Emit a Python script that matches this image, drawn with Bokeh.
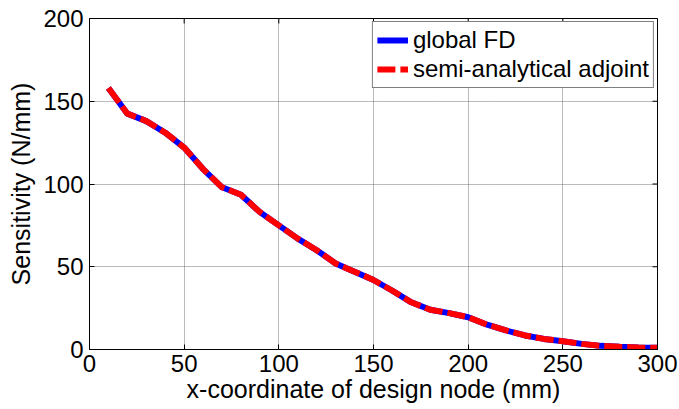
from bokeh.plotting import figure
from bokeh.models import Range1d, Legend, LegendItem, FixedTicker
from bokeh.embed import file_html
from bokeh.resources import INLINE

x_mm = [10, 20, 30, 40, 50, 60, 70, 80, 90, 100, 110, 120, 130, 140, 150,
        160, 170, 180, 190, 200, 210, 220, 230, 240, 250, 260, 270, 280, 290, 300]
fd = [158, 142.5, 138, 131, 122, 109, 98, 93.5, 83, 75, 67, 60, 52, 47, 42,
      35.5, 28.5, 24, 22, 19.5, 15, 11.5, 8.5, 6.4, 5, 3.4, 2.2, 1.6, 1.2, 1.0]
adj = [158, 142.5, 138, 131, 122, 109, 98, 93.5, 83, 75, 67, 60, 52, 47, 42,
       35.5, 28.5, 24, 22, 19.5, 15, 11.5, 8.5, 6.4, 5, 3.4, 2.2, 1.6, 1.2, 1.0]
x_ticks = [0, 50, 100, 150, 200, 250, 300]
y_ticks = [0, 50, 100, 150, 200]
x_lim = (0, 300)
y_lim = (0, 200)

FONT = "Liberation Sans"
FS = "24px"
FS_LABEL = "25px"

p = figure(width=679, height=409, output_backend="svg", toolbar_location=None,
           x_range=Range1d(*x_lim), y_range=Range1d(*y_lim),
           min_border_left=89, min_border_right=22, min_border_top=18, min_border_bottom=60)
p.background_fill_color = "white"
p.border_fill_color = "white"
p.outline_line_color = "black"
p.outline_line_width = 1

for ax in (p.xaxis[0], p.yaxis[0]):
    ax.major_tick_in = 5
    ax.major_tick_out = 0
    ax.minor_tick_in = 0
    ax.minor_tick_out = 0
    ax.axis_line_color = "black"
    ax.major_label_text_font = FONT
    ax.major_label_text_font_size = FS
    ax.major_label_text_color = "black"
    ax.axis_label_text_font = FONT
    ax.axis_label_text_font_size = FS_LABEL
    ax.axis_label_text_font_style = "normal"
    ax.axis_label_text_color = "black"

p.xaxis[0].ticker = FixedTicker(ticks=x_ticks)
p.yaxis[0].ticker = FixedTicker(ticks=y_ticks)
p.xaxis[0].axis_label = "x-coordinate of design node (mm)"
p.yaxis[0].axis_label = "Sensitivity (N/mm)"
p.xaxis[0].major_label_standoff = 5
p.xaxis[0].axis_label_standoff = 0
p.yaxis[0].major_label_standoff = 6
p.yaxis[0].axis_label_standoff = 5

# inner ticks on top and right edges of the frame
tick_dx = (x_lim[1] - x_lim[0]) * 5 / 568
tick_dy = (y_lim[1] - y_lim[0]) * 5 / 331
p.segment(x0=x_ticks, y0=[y_lim[1]] * len(x_ticks), x1=x_ticks,
          y1=[y_lim[1] - tick_dy] * len(x_ticks), line_color="black", line_width=1)
p.segment(x0=[x_lim[1]] * len(y_ticks), y0=y_ticks, x1=[x_lim[1] - tick_dx] * len(y_ticks),
          y1=y_ticks, line_color="black", line_width=1)

p.xgrid.ticker = FixedTicker(ticks=x_ticks)
p.ygrid.ticker = FixedTicker(ticks=y_ticks)
for g in (p.xgrid[0], p.ygrid[0]):
    g.grid_line_color = "#555555"
    g.grid_line_dash = "1 1"
    g.grid_line_width = 1
    g.grid_line_alpha = 0.8

r1 = p.line(x_mm, fd, line_color="blue", line_width=6)
r2 = p.line(x_mm, adj, line_color="red", line_width=6, line_dash="18 5")

legend = Legend(items=[LegendItem(label="global FD", renderers=[r1]),
                       LegendItem(label="semi-analytical adjoint", renderers=[r2])],
                location="top_right")
legend.label_text_font = FONT
legend.label_text_font_size = FS
legend.label_text_color = "black"
legend.label_height = 22
legend.border_line_color = "black"
legend.border_line_width = 1
legend.glyph_width = 31
legend.glyph_height = 22
legend.spacing = 1
legend.padding = 4
legend.margin = 3
legend.label_standoff = 5
legend.background_fill_alpha = 1.0
p.add_layout(legend)

open("out.html", "w").write(file_html(p, INLINE))
